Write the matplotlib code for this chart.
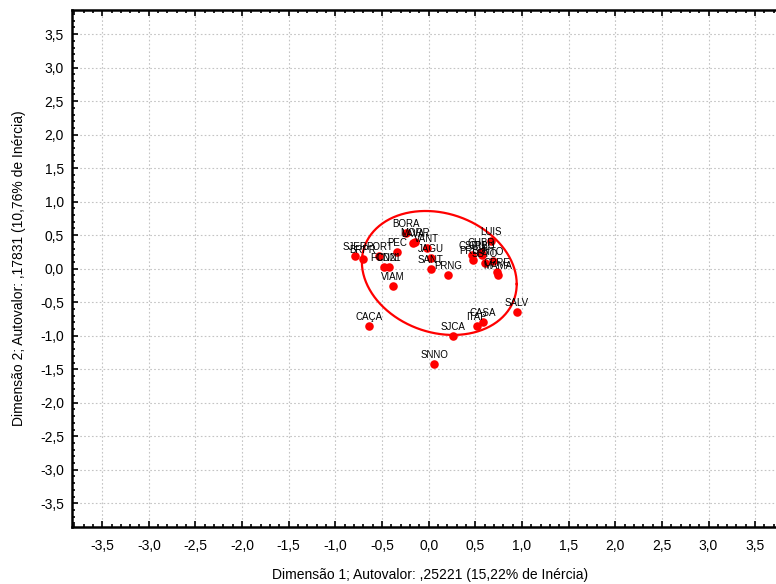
import numpy as np
from matplotlib import pyplot as plt
from matplotlib.ticker import MultipleLocator, FuncFormatter

# rótulos e coordenadas (dimensão 1, dimensão 2)
labels = ['SJER', 'BRPR', 'PORT', 'FCDN', 'CN21', 'PEC', 'BORA', 'LAVA', 'MORR',
          'VANT', 'JAGU', 'SANT', 'PRNG', 'VIAM', 'CAÇA', 'SJCA', 'ITAP', 'CASA',
          'SNNO', 'SALV', 'LUIS', 'CHBR', 'CSPU', 'PRBU', 'CPBU', 'SBTO', 'BITO',
          'CPRE', 'MAMA']
dim1 = [-0.794, -0.708, -0.529, -0.483, -0.422, -0.340, -0.248, -0.169, -0.144,
        -0.019, 0.024, 0.024, 0.212, -0.387, -0.636, 0.259, 0.516, 0.580,
        0.062, 0.943, 0.668, 0.558, 0.462, 0.473, 0.569, 0.604, 0.687,
        0.729, 0.740]
dim2 = [0.190, 0.140, 0.190, 0.021, 0.021, 0.254, 0.528, 0.379, 0.403,
        0.313, 0.155, -0.009, -0.099, -0.254, -0.851, -1.000, -0.851, -0.791,
        -1.422, -0.642, 0.413, 0.254, 0.204, 0.130, 0.204, 0.081, 0.115,
        -0.054, -0.094]

# elipse: centro e fator de forma
ell_center = (0.114, -0.064)
ell_shape = [[0.83, 0.0], [-0.165, 0.91]]


def fmt(v, pos):
    return ('%.1f' % v).replace('.', ',')


fig = plt.figure(figsize=(7.76, 5.84), dpi=100)
ax = fig.add_axes([0.0932, 0.0981, 0.922, 0.8848])

ax.scatter(dim1, dim2, s=38, color='#ff0000', zorder=3, linewidths=0)
for lab, x, y in zip(labels, dim1, dim2):
    ax.annotate(lab, (x, y), xytext=(0, 6.5), textcoords='offset points',
                ha='center', va='center', fontsize=7,
                family=['Liberation Sans', 'DejaVu Sans'], zorder=4)

t = np.linspace(0, 2 * np.pi, 300)
L = np.array(ell_shape)
ex = ell_center[0] + L[0, 0] * np.cos(t)
ey = ell_center[1] + L[1, 0] * np.cos(t) + L[1, 1] * np.sin(t)
ax.plot(ex, ey, color='#ff0000', lw=1.6, zorder=2)

ax.set_xlim(-3.82, 3.85)
ax.set_ylim(-3.85, 3.86)
ax.xaxis.set_major_locator(MultipleLocator(0.5))
ax.yaxis.set_major_locator(MultipleLocator(0.5))
ax.xaxis.set_minor_locator(MultipleLocator(0.1))
ax.yaxis.set_minor_locator(MultipleLocator(0.1))
ax.xaxis.set_major_formatter(FuncFormatter(fmt))
ax.yaxis.set_major_formatter(FuncFormatter(fmt))

ax.tick_params(which='both', direction='in', top=True, right=True, width=1.2,
               color='black')
ax.tick_params(which='major', length=4)
ax.tick_params(which='minor', length=2.5)
ax.tick_params(axis='x', pad=9, labelsize=10)
ax.tick_params(axis='y', pad=6, labelsize=10)
for lb in ax.get_xticklabels() + ax.get_yticklabels():
    lb.set_family(['Liberation Sans', 'DejaVu Sans'])

for s in ax.spines.values():
    s.set_linewidth(1.8)

ax.grid(True, which='major', linestyle=(0, (1.5, 2)), color='#c4c4c4', lw=0.8)
ax.set_axisbelow(True)

ax.set_xlabel('Dimensão 1; Autovalor: ,25221 (15,22% de Inércia)', fontsize=10,
              family=['Liberation Sans', 'DejaVu Sans'], labelpad=11)
ax.set_ylabel('Dimensão 2; Autovalor: ,17831 (10,76% de Inércia)', fontsize=10,
              family=['Liberation Sans', 'DejaVu Sans'], labelpad=10)

fig.savefig('out.png', dpi=100)
